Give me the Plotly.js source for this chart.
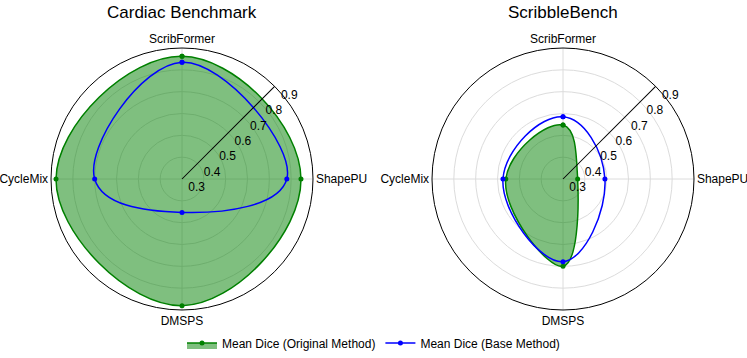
<!DOCTYPE html>
<html>
<head>
<meta charset="utf-8">
<script src="https://cdn.plot.ly/plotly-3.0.1.min.js"></script>
<style>
  html, body { margin: 0; padding: 0; background: #fff; }
  #chart { width: 747px; height: 358px; }
</style>
</head>
<body>
<div id="chart"></div>
<script>
// Methods around the radar, clockwise from the top
const methods = ['ScribFormer', 'ShapePU', 'DMSPS', 'CycleMix'];

// Cardiac Benchmark
const cardiacOriginal = [0.862, 0.845, 0.880, 0.877];
const cardiacBase = [0.835, 0.780, 0.453, 0.700];

// ScribbleBench
const scribbleOriginal = [0.547, 0.367, 0.700, 0.562];
const scribbleBase = [0.585, 0.492, 0.679, 0.575];

const radialTicks = [0.3, 0.4, 0.5, 0.6, 0.7, 0.8, 0.9];

const FONT = 'Liberation Sans, Arial, sans-serif';

// close the loop so the spline comes back round smoothly
function closed(arr) {
    return arr.concat([arr[0]]);
}

function originalTrace(values, subplot, showLegend) {
    return {
        type: 'scatterpolar',
        r: closed(values),
        theta: closed(methods),
        subplot: subplot,
        name: 'Mean Dice (Original Method)',
        mode: 'lines+markers',
        fill: 'toself',
        fillcolor: 'rgba(0, 128, 0, 0.5)',
        line: { color: '#008000', width: 1.5, shape: 'spline', smoothing: 1.3 },
        marker: { color: '#008000', size: 5 },
        showlegend: showLegend,
        legendgroup: 'orig'
    };
}

function baseTrace(values, subplot, showLegend) {
    return {
        type: 'scatterpolar',
        r: closed(values),
        theta: closed(methods),
        subplot: subplot,
        name: 'Mean Dice (Base Method)',
        mode: 'lines+markers',
        line: { color: '#0000ff', width: 1.5, shape: 'spline', smoothing: 1.3 },
        marker: { color: '#0000ff', size: 5 },
        showlegend: showLegend,
        legendgroup: 'base'
    };
}

function polarAxes(xDomain) {
    return {
        domain: { x: xDomain, y: [48 / 358, 310 / 358] },
        bgcolor: 'rgba(0,0,0,0)',
        radialaxis: {
            range: [0.3, 0.9],
            tickvals: radialTicks,
            ticktext: radialTicks.map(v => v.toFixed(1)),
            angle: 45,
            tickangle: 45,
            showline: true,
            linecolor: '#000',
            linewidth: 1,
            ticks: '',
            gridcolor: '#dcdcdc',
            gridwidth: 1,
            tickfont: { family: FONT, size: 12, color: '#000' }
        },
        angularaxis: {
            categoryorder: 'array',
            categoryarray: methods,
            rotation: 90,
            direction: 'clockwise',
            showline: true,
            linecolor: '#000',
            linewidth: 1,
            ticks: '',
            gridcolor: '#dcdcdc',
            gridwidth: 1,
            tickfont: { family: FONT, size: 12, color: '#000' }
        }
    };
}

const data = [
    originalTrace(cardiacOriginal, 'polar', true),
    baseTrace(cardiacBase, 'polar', true),
    originalTrace(scribbleOriginal, 'polar2', false),
    baseTrace(scribbleBase, 'polar2', false)
];

const layout = {
    width: 747,
    height: 358,
    margin: { l: 0, r: 0, t: 0, b: 0 },
    paper_bgcolor: '#fff',
    font: { family: FONT, color: '#000' },
    showlegend: true,
    polar: polarAxes([51 / 747, 313 / 747]),
    polar2: polarAxes([432 / 747, 694 / 747]),
    annotations: [
        { text: 'Cardiac Benchmark', x: 182 / 747, y: 1 - 13 / 358, xref: 'paper', yref: 'paper',
          xanchor: 'center', yanchor: 'middle', showarrow: false, font: { family: FONT, size: 17, color: '#000' } },
        { text: 'ScribbleBench', x: 563 / 747, y: 1 - 13 / 358, xref: 'paper', yref: 'paper',
          xanchor: 'center', yanchor: 'middle', showarrow: false, font: { family: FONT, size: 17, color: '#000' } }
    ],
    legend: {
        orientation: 'h',
        x: 0.5,
        xanchor: 'center',
        y: 15 / 358,
        yanchor: 'middle',
        itemwidth: 30,
        font: { family: FONT, size: 12, color: '#000' },
        bgcolor: 'rgba(0,0,0,0)'
    }
};

Plotly.newPlot('chart', data, layout, { displayModeBar: false, staticPlot: true });
</script>
</body>
</html>
